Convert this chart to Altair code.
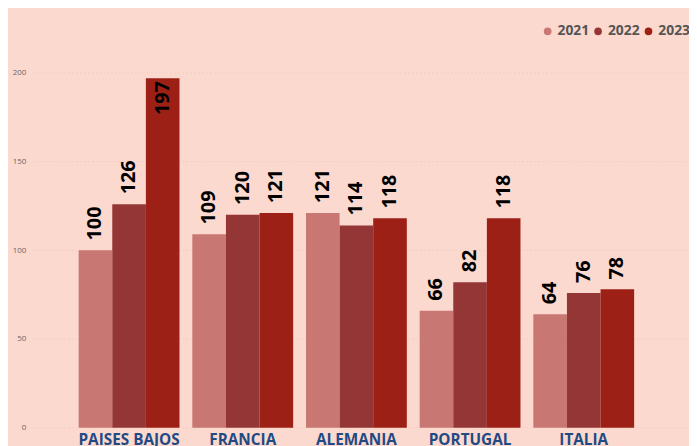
import altair as alt
import pandas as pd

countries = ["PAISES BAJOS", "FRANCIA", "ALEMANIA", "PORTUGAL", "ITALIA"]
years = ["2021", "2022", "2023"]
v2021 = [100, 109, 121, 66, 64]
v2022 = [126, 120, 114, 82, 76]
v2023 = [197, 121, 118, 118, 78]
colors = ["#C97773", "#943636", "#9C2015"]
grid_vals = [0, 50, 100, 150, 200]

rows = []
for i, c in enumerate(countries):
    for y, vals in zip(years, [v2021, v2022, v2023]):
        rows.append({"pais": c, "anio": y, "valor": vals[i]})
df = pd.DataFrame(rows)
grid_df = pd.DataFrame({"g": grid_vals})

W, H = 585, 359
yscale = alt.Scale(domain=[0, 200], nice=False, zero=True)
yaxis = alt.Axis(title=None, values=grid_vals, grid=False, domain=False, ticks=False,
                 labelFont="Open Sans", labelFontSize=8, labelColor="#666666",
                 labelPadding=42)

base = alt.Chart(df).encode(
    x=alt.X("pais:N", sort=countries,
            scale=alt.Scale(paddingInner=0.113, paddingOuter=0.1),
            axis=alt.Axis(title=None, labelAngle=0, domain=False, ticks=False,
                          labelFont="Open Sans", labelFontWeight="bold",
                          labelFontSize=15.5, labelColor="#1F4A84", labelPadding=5)),
    xOffset=alt.XOffset("anio:N", sort=years),
)

grid = alt.Chart(grid_df).mark_rule(color="#EEC2B6", strokeDash=[1, 3], strokeWidth=1).encode(
    y=alt.Y("g:Q", scale=yscale, axis=yaxis),
    x=alt.value(-35),
    x2=alt.value(W + 45),
)

bars = base.mark_bar().encode(
    y=alt.Y("valor:Q", scale=yscale, axis=yaxis),
    color=alt.Color("anio:N", sort=years,
                    scale=alt.Scale(domain=years, range=colors),
                    legend=alt.Legend(title=None, orient="none", direction="horizontal",
                                      legendX=479, legendY=-49, symbolType="circle",
                                      symbolSize=60, symbolStrokeWidth=0,
                                      labelFont="Open Sans", labelFontWeight="bold",
                                      labelFontSize=14, labelColor="#555555",
                                      labelOffset=3, columnPadding=1)),
)

txt_out = base.transform_filter("datum.valor < 180").mark_text(
    angle=270, align="left", baseline="middle", dx=10,
    font="Open Sans", fontWeight="bold", fontSize=20, color="#000000",
).encode(y=alt.Y("valor:Q", scale=yscale, axis=yaxis), text="valor:Q")

txt_in = base.transform_filter("datum.valor >= 180").mark_text(
    angle=270, align="right", baseline="middle", dx=-3,
    font="Open Sans", fontWeight="bold", fontSize=20, color="#000000",
).encode(y=alt.Y("valor:Q", scale=yscale, axis=yaxis), text="valor:Q")

chart = alt.layer(grid, bars, txt_out, txt_in).properties(
    width=W, height=H,
    background="#FCD9CF",
    padding={"left": 60, "top": 63, "right": 44, "bottom": 30},
    autosize=alt.AutoSizeParams(type="none"),
).configure_view(stroke=None)

chart.save("out.html", embed_options={"renderer": "svg", "actions": False})
